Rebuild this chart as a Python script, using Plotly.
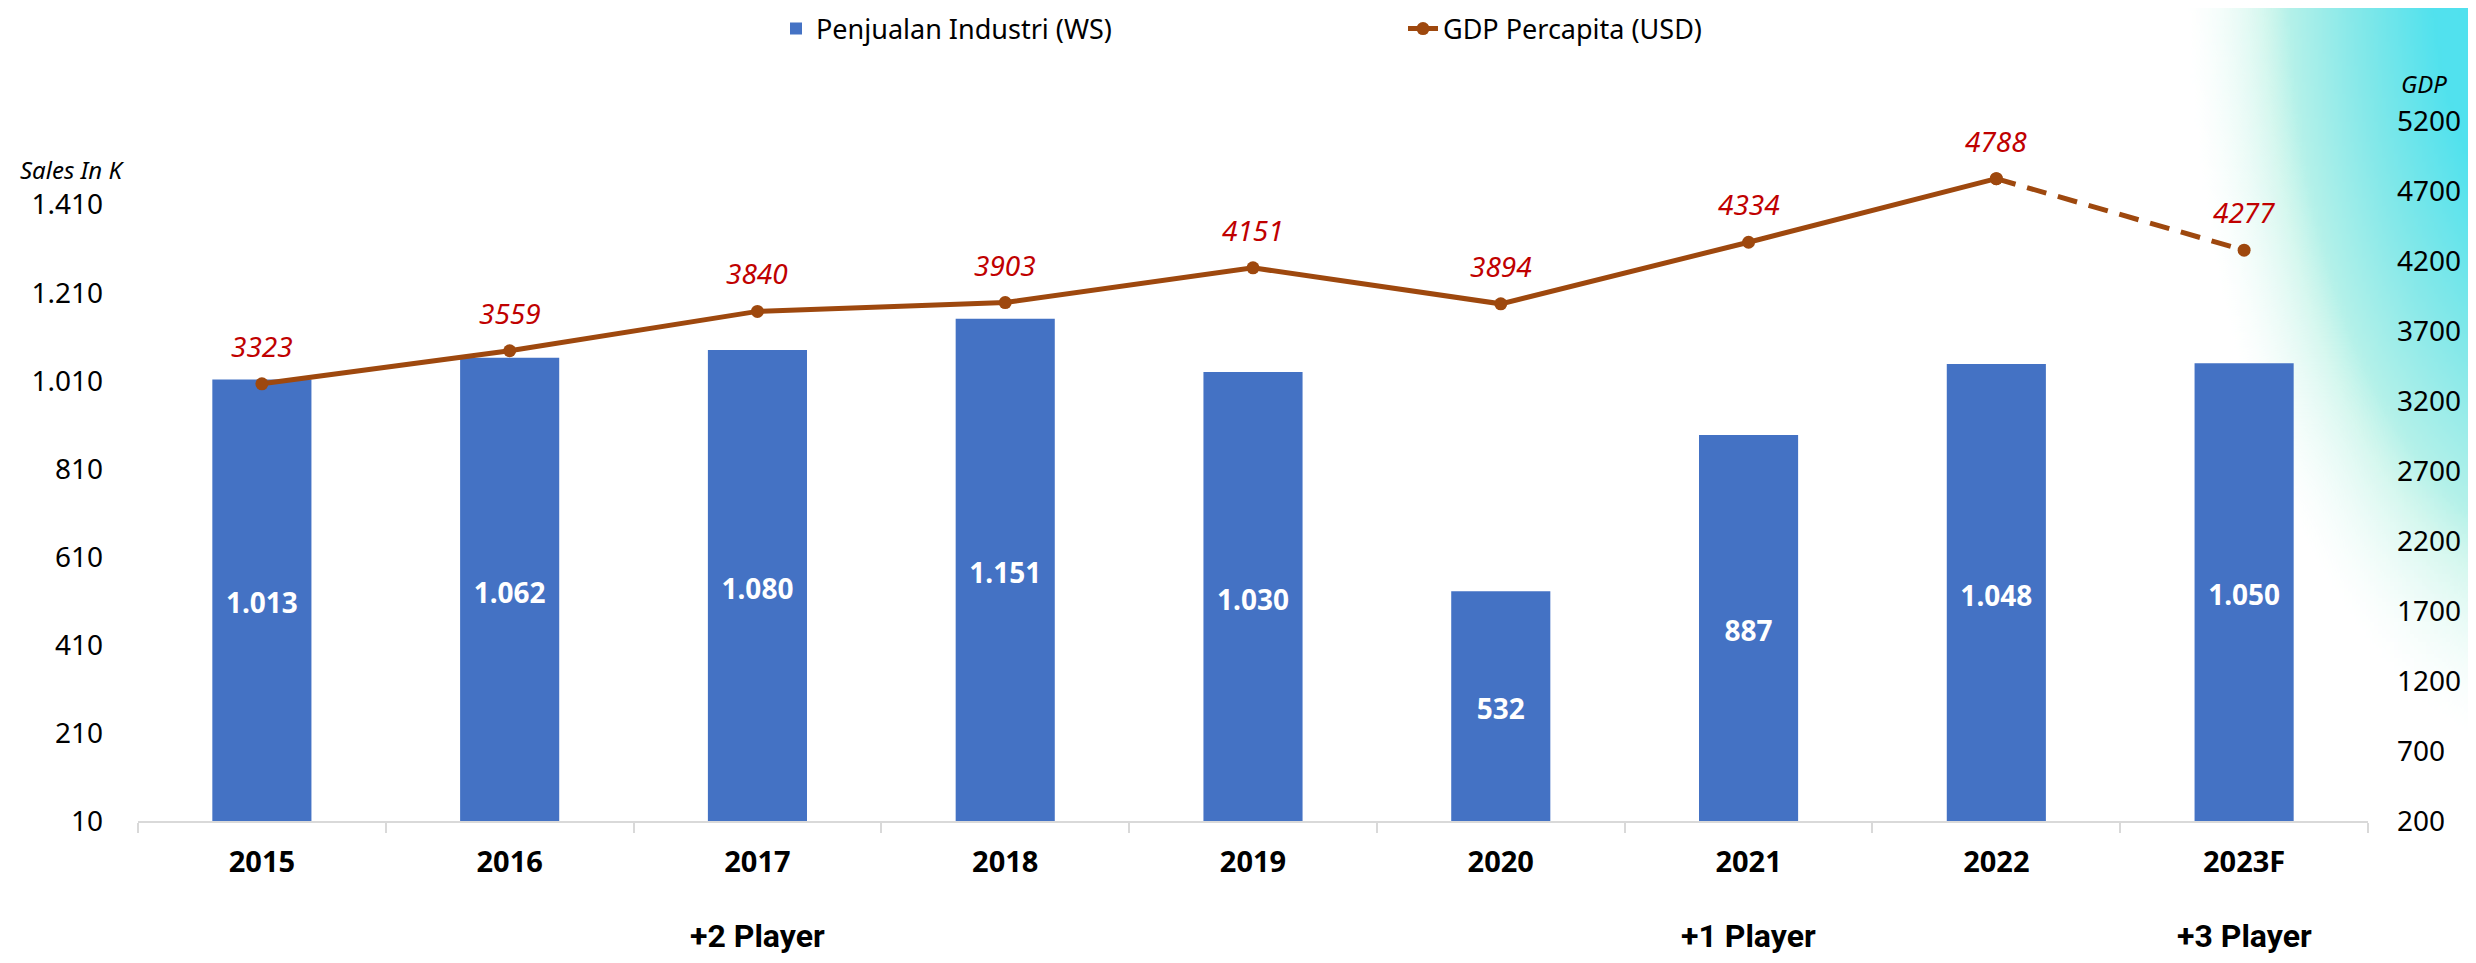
import base64
import struct
import zlib

import numpy as np
import plotly.graph_objects as go

# ---------------- data ----------------
years = ["2015", "2016", "2017", "2018", "2019", "2020", "2021", "2022", "2023F"]
sales = [1013, 1062, 1080, 1151, 1030, 532, 887, 1048, 1050]
gdp = [3323, 3559, 3840, 3903, 4151, 3894, 4334, 4788, 4277]
left_ticks = [10, 210, 410, 610, 810, 1010, 1210, 1410]
right_ticks = [200, 700, 1200, 1700, 2200, 2700, 3200, 3700, 4200, 4700, 5200]
player_years = ["2017", "2021", "2023F"]
player_text = ["+2 Player", "+1 Player", "+3 Player"]

# ---------------- style ----------------
W, H = 2476, 963
ML, MR, MT, MB = 130, 116, 113, 150
PW, PH = W - ML - MR, H - MT - MB
BAR = "#4472C4"
LINE = "#9E480E"
RED = "#C00000"
FONT = "Noto Sans"


def px_x(X):
    return (X - ML) / PW


def px_y(Y):
    return (H - MB - Y) / PH


# decorative cyan gradient in the top-right corner (PNG built in memory)
def gradient_png():
    x0, x1, y0, y1, step = 2080, 2476, 0, 820, 4
    nx, ny = (x1 - x0) // step, (y1 - y0) // step
    X = x0 + (np.arange(nx) + 0.5) * step
    Y = y0 + (np.arange(ny) + 0.5) * step
    XX, YY = np.meshgrid(X, Y)
    d = np.sqrt(((2560 - XX) / 360.0) ** 2 + ((YY + 50) / 760.0) ** 2)
    stops = [0.0, 0.38, 0.6, 0.85, 1.05]
    cols = np.array([[77, 225, 238], [82, 226, 238], [135, 233, 233],
                     [200, 245, 234], [235, 251, 246]], float)
    img = np.zeros((ny, nx, 4), np.uint8)
    for c in range(3):
        img[..., c] = np.clip(np.interp(d, stops, cols[:, c]), 0, 255).astype(np.uint8)
    alpha = np.clip((1.06 - d) / 0.28, 0, 1)
    img[..., 3] = (alpha * 255).astype(np.uint8)
    raw = b"".join(b"\x00" + img[r].tobytes() for r in range(ny))

    def chunk(t, data):
        c = struct.pack(">I", len(data)) + t + data
        return c + struct.pack(">I", zlib.crc32(t + data) & 0xFFFFFFFF)

    png = b"\x89PNG\r\n\x1a\n"
    png += chunk(b"IHDR", struct.pack(">IIBBBBB", nx, ny, 8, 6, 0, 0, 0))
    png += chunk(b"IDAT", zlib.compress(raw, 9))
    png += chunk(b"IEND", b"")
    src = "data:image/png;base64," + base64.b64encode(png).decode()
    return src, x0, x1, y0, y1


src, gx0, gx1, gy0, gy1 = gradient_png()

fig = go.Figure()

fig.add_trace(go.Bar(
    x=years, y=sales, name="Penjualan Industri (WS)",
    marker=dict(color=BAR, line=dict(width=0)),
    width=0.4,
    texttemplate="%{y:,d}", textposition="inside", insidetextanchor="middle",
    textangle=0, constraintext="none",
    textfont=dict(family=FONT, size=28, color="white", weight="bold"),
    yaxis="y", hoverinfo="skip",
))

fig.add_trace(go.Scatter(
    x=years[:-1], y=gdp[:-1], name="GDP Percapita (USD)",
    mode="lines+markers", yaxis="y2",
    line=dict(color=LINE, width=5),
    marker=dict(color=LINE, size=13),
    hoverinfo="skip",
))
fig.add_trace(go.Scatter(
    x=years[-2:], y=gdp[-2:], showlegend=False,
    mode="lines+markers", yaxis="y2",
    line=dict(color=LINE, width=5, dash="20px,12px"),
    marker=dict(color=LINE, size=13),
    hoverinfo="skip",
))

annotations = []
for i, g in enumerate(gdp):
    annotations.append(dict(
        x=i, y=g, xref="x", yref="y2", text=str(g), showarrow=False,
        yshift=38, yanchor="middle",
        font=dict(family=FONT, size=28, color=RED, style="italic"),
    ))
for yr, t in zip(player_years, player_text):
    annotations.append(dict(
        x=years.index(yr), y=px_y(928), xref="x", yref="paper", text=t,
        showarrow=False, yanchor="middle",
        font=dict(family="Roboto", size=32, color="black", weight="bold"),
    ))
annotations.append(dict(
    x=px_x(10), y=px_y(162), xref="paper", yref="paper", text="Sales In K",
    showarrow=False, xanchor="left", yanchor="middle",
    font=dict(family=FONT, size=24, color="black", style="italic"),
))
annotations.append(dict(
    x=px_x(2391), y=px_y(76), xref="paper", yref="paper", text="GDP",
    showarrow=False, xanchor="left", yanchor="middle",
    font=dict(family=FONT, size=24, color="black", style="italic"),
))

fig.update_layout(
    width=W, height=H,
    margin=dict(l=ML, r=MR, t=MT, b=MB, pad=0, autoexpand=False),
    paper_bgcolor="white", plot_bgcolor="rgba(0,0,0,0)",
    separators=",.",
    bargap=0.6,
    showlegend=True,
    legend=dict(
        orientation="h", x=px_x(768), xanchor="left",
        y=px_y(21), yanchor="middle",
        font=dict(family=FONT, size=27, color="black"),
        entrywidth=582, entrywidthmode="pixels",
        bgcolor="rgba(0,0,0,0)",
    ),
    xaxis=dict(
        type="category", range=[-0.5, len(years) - 0.5],
        showline=True, linecolor="#D9D9D9", linewidth=2,
        ticks="outside", tickson="boundaries", ticklen=10, tickwidth=2,
        tickcolor="#D9D9D9", showgrid=False, zeroline=False,
        tickfont=dict(family=FONT, size=29, color="black", weight="bold"),
        ticklabelstandoff=14,
    ),
    yaxis=dict(
        range=[10, 1600], tickvals=left_ticks, tickformat=",d",
        showgrid=False, zeroline=False, showline=False, ticks="",
        tickfont=dict(family=FONT, size=28, color="black"),
        ticklabelstandoff=34,
    ),
    yaxis2=dict(
        range=[200, 5200], tickvals=right_ticks, tickformat="d",
        overlaying="y", side="right",
        showgrid=False, zeroline=False, showline=False, ticks="",
        tickfont=dict(family=FONT, size=28, color="black"),
        ticklabelstandoff=28,
    ),
    annotations=annotations,
    images=[dict(
        source=src, xref="paper", yref="paper",
        x=px_x(gx0), y=px_y(gy0), sizex=(gx1 - gx0) / PW, sizey=(gy1 - gy0) / PH,
        xanchor="left", yanchor="top", sizing="stretch", layer="below",
    )],
)

fig.write_html("out.html")
